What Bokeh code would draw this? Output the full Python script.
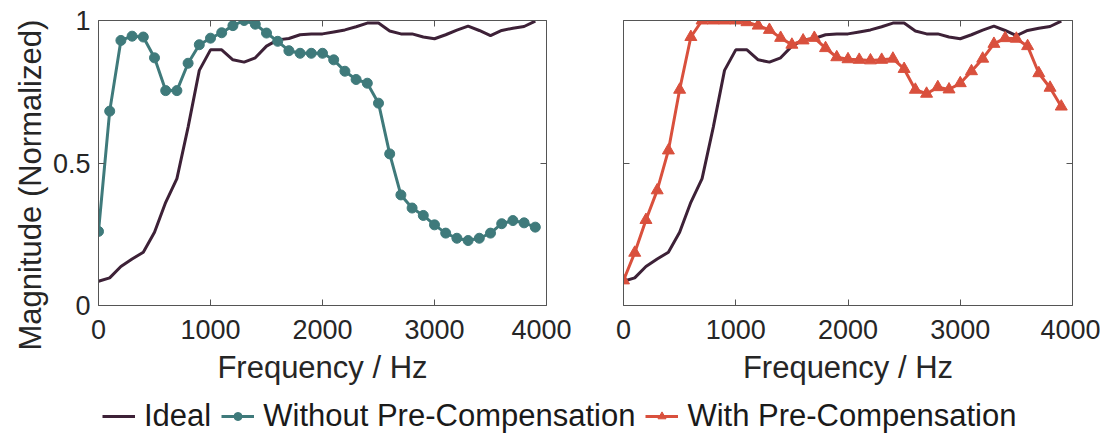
from bokeh.plotting import figure
from bokeh.models import (Range1d, FixedTicker, LinearAxis, Legend, LegendItem,
                          CustomJSTickFormatter)
from bokeh.layouts import column, row
from bokeh.embed import file_html
from bokeh.resources import INLINE

# ---------------- data ----------------
freq = list(range(0, 4000, 100))
ideal = [0.085, 0.097, 0.137, 0.163, 0.187, 0.257, 0.362, 0.445, 0.626, 0.825,
         0.897, 0.897, 0.862, 0.854, 0.869, 0.910, 0.932, 0.937, 0.950, 0.953,
         0.953, 0.960, 0.967, 0.978, 0.991, 0.991, 0.963, 0.953, 0.953, 0.942,
         0.936, 0.950, 0.966, 0.980, 0.965, 0.947, 0.965, 0.973, 0.979, 0.998]
without_pc = [0.26, 0.682, 0.93, 0.945, 0.942, 0.869, 0.754, 0.754, 0.85, 0.915,
              0.938, 0.957, 0.982, 1.0, 0.987, 0.956, 0.927, 0.894, 0.885, 0.885,
              0.885, 0.862, 0.822, 0.793, 0.78, 0.71, 0.532, 0.388, 0.342, 0.316,
              0.283, 0.254, 0.236, 0.228, 0.236, 0.254, 0.287, 0.298, 0.29, 0.275]
with_pc = [0.088, 0.185, 0.30, 0.404, 0.544, 0.757, 0.942, 1.0, 1.0, 1.0,
           1.0, 0.994, 0.982, 0.967, 0.939, 0.915, 0.93, 0.939, 0.903, 0.871,
           0.864, 0.862, 0.86, 0.862, 0.866, 0.83, 0.757, 0.743, 0.766, 0.758,
           0.78, 0.822, 0.866, 0.918, 0.938, 0.936, 0.91, 0.815, 0.764, 0.698]
x_ticks = [0, 1000, 2000, 3000, 4000]
y_ticks = [0, 0.5, 1]
labels = ["Ideal", "Without Pre-Compensation", "With Pre-Compensation"]
x_label = "Frequency / Hz"
y_label = "Magnitude (Normalized)"

C_IDEAL = "#3d2137"
C_WO = "#3f7a7b"
C_W = "#d9503d"
AX_C = "#555555"
TXT_C = "#262626"
FONT = "Liberation Sans"
PANEL_H = 394

fmt = CustomJSTickFormatter(code="return tick.toString();")
blank = CustomJSTickFormatter(code="return '';")


def style_axis(ax, show_labels):
    ax.axis_line_color = AX_C
    ax.axis_line_width = 1
    ax.major_tick_line_color = AX_C
    ax.major_tick_line_width = 1
    ax.major_tick_in = 6
    ax.major_tick_out = 0
    ax.minor_tick_line_color = None
    ax.major_label_text_font = FONT
    ax.major_label_text_color = TXT_C
    if show_labels:
        ax.major_label_text_font_size = "27px"
        ax.formatter = fmt
    else:
        ax.major_label_text_font_size = "0px"
        ax.major_label_standoff = 0
        ax.formatter = blank


def make_panel(width, left, right, show_ylabels):
    kw = {}
    if show_ylabels:
        kw = dict(title=y_label, title_location="left")
    p = figure(width=width, height=PANEL_H, output_backend="svg", toolbar_location=None,
               x_range=Range1d(0, 4000), y_range=Range1d(0, 1),
               min_border_left=left, min_border_right=right,
               min_border_top=20, min_border_bottom=89, **kw)
    p.grid.visible = False
    p.outline_line_color = None
    p.background_fill_color = "white"
    if show_ylabels:
        # shared y title: starts a little below the frame bottom, as in the original
        p.title.align = "left"
        p.title.offset = -45
        p.title.standoff = 4
        p.title.text_font = FONT
        p.title.text_font_size = "31px"
        p.title.text_font_style = "normal"
        p.title.text_color = TXT_C
    for ax in p.xaxis:
        ax.ticker = FixedTicker(ticks=x_ticks)
        style_axis(ax, True)
        ax.major_label_standoff = 14
        ax.axis_label = x_label
        ax.axis_label_standoff = 8
        ax.axis_label_text_font = FONT
        ax.axis_label_text_font_size = "31px"
        ax.axis_label_text_font_style = "normal"
        ax.axis_label_text_color = TXT_C
    for ax in p.yaxis:
        ax.ticker = FixedTicker(ticks=y_ticks)
        style_axis(ax, show_ylabels)
        if show_ylabels:
            ax.major_label_standoff = 8
    top = LinearAxis(ticker=FixedTicker(ticks=x_ticks))
    style_axis(top, False)
    p.add_layout(top, "above")
    rgt = LinearAxis(ticker=FixedTicker(ticks=y_ticks))
    style_axis(rgt, False)
    p.add_layout(rgt, "right")
    p.line(freq, ideal, color=C_IDEAL, line_width=3)
    return p


p1 = make_panel(571, 98, 25, True)
p1.line(freq, without_pc, color=C_WO, line_width=3)
p1.scatter(freq, without_pc, marker="circle", size=10, color=C_WO)

p2 = make_panel(529, 52, 28, False)
p2.line(freq, with_pc, color=C_W, line_width=3)
p2.scatter(freq, with_pc, marker="triangle", size=12, color=C_W)

# ---------------- legend strip (series kept out of view, only legend shows) ----------------
lf = figure(width=1100, height=40, output_backend="svg", toolbar_location=None,
            x_range=Range1d(5000, 6000), y_range=Range1d(0, 1),
            x_axis_type=None, y_axis_type=None, min_border=0)
lf.grid.visible = False
lf.outline_line_color = None
r_i = lf.line(freq, ideal, color=C_IDEAL, line_width=3)
r_wo_l = lf.line(freq, without_pc, color=C_WO, line_width=3)
r_wo_m = lf.scatter(freq, without_pc, marker="circle", size=8, color=C_WO)
r_w_l = lf.line(freq, with_pc, color=C_W, line_width=3)
r_w_m = lf.scatter(freq, with_pc, marker="triangle", size=10, color=C_W)
legend = Legend(items=[LegendItem(label=labels[0], renderers=[r_i]),
                       LegendItem(label=labels[1], renderers=[r_wo_l, r_wo_m]),
                       LegendItem(label=labels[2], renderers=[r_w_l, r_w_m])],
                location=(102, 0), orientation="horizontal",
                label_text_font=FONT, label_text_font_size="31px",
                label_text_color="#1a1a1a", glyph_width=33, glyph_height=20,
                label_standoff=9, spacing=10, padding=0, margin=0,
                border_line_color=None, background_fill_alpha=0)
lf.add_layout(legend)

layout = column(row(p1, p2), lf)
open("out.html", "w").write(file_html(layout, INLINE))
